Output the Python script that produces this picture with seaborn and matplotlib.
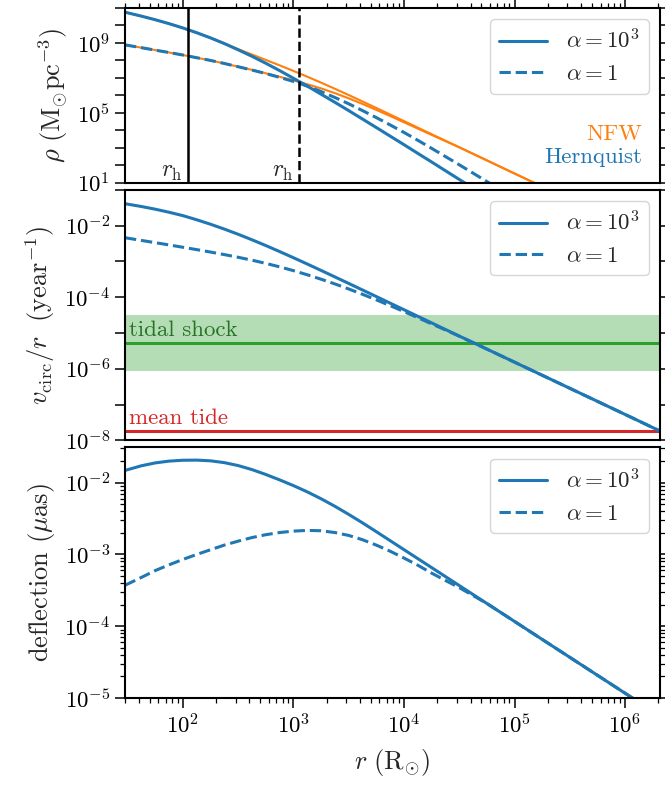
import numpy as np
import pandas as pd
import matplotlib
matplotlib.use("Agg")
import matplotlib.pyplot as plt
import seaborn as sns
from matplotlib.ticker import FixedLocator, LogLocator, NullFormatter, FuncFormatter

# ---------------------------------------------------------------------------
# Radial grid: log10(r / R_sun)
log_r = [1.477, 1.625, 1.75, 1.875, 2.0, 2.125, 2.25, 2.375, 2.5, 2.625,
         2.75, 2.875, 3.0, 3.125, 3.25, 3.375, 3.5, 3.625, 3.75, 3.875,
         4.0, 4.125, 4.25, 4.375, 4.5, 4.75, 5.0, 5.25, 5.5, 5.75, 6.0, 6.317]

# Density profiles, log10(rho / (M_sun pc^-3))
log_rho_hern_a1000 = [10.76, 10.535, 10.33, 10.105, 9.86, 9.587, 9.29, 8.965,
                      8.61, 8.237, 7.84, 7.42, 6.98, 6.535, 6.07, 5.605,
                      5.13, 4.645, 4.16, 3.669, 3.18, 2.683, 2.19, 1.69,
                      1.19, 0.20, -0.80, -1.80, -2.80, -3.80, -4.80, -6.00]
log_rho_hern_a1 = [8.89, 8.73, 8.59, 8.453, 8.31, 8.156, 8.00, 7.826,
                   7.64, 7.45, 7.25, 7.03, 6.80, 6.53, 6.22, 5.88,
                   5.52, 5.13, 4.73, 4.31, 3.88, 3.43, 2.97, 2.50,
                   2.03, 1.07, 0.10, -0.90, -1.90, -2.90, -3.90, -5.10]
log_rho_nfw_a1000 = [10.76, 10.535, 10.33, 10.105, 9.86, 9.587, 9.30, 8.98,
                     8.65, 8.34, 8.03, 7.72, 7.40, 7.07, 6.73, 6.38,
                     6.02, 5.65, 5.28, 4.905, 4.53, 4.155, 3.78, 3.405,
                     3.03, 2.28, 1.53, 0.78, 0.03, -0.72, -1.47, -2.42]
log_rho_nfw_a1 = [8.89, 8.73, 8.59, 8.453, 8.31, 8.156, 8.00, 7.826,
                  7.645, 7.46, 7.265, 7.065, 6.86, 6.64, 6.40, 6.13,
                  5.83, 5.51, 5.17, 4.82, 4.46, 4.10, 3.74, 3.385,
                  3.03, 2.28, 1.53, 0.78, 0.03, -0.72, -1.47, -2.42]

# Half-mass radii (R_sun) for alpha = 1e3 and alpha = 1
r_half = [111, 1130]

# Orbital frequency v_circ / r, log10(year^-1)
log_freq_a1000 = [-1.39, -1.468, -1.543, -1.628, -1.723, -1.838, -1.963, -2.098,
                  -2.243, -2.397, -2.558, -2.726, -2.898, -3.074, -3.253, -3.434,
                  -3.616, -3.799, -3.983, -4.167, -4.350, -4.534, -4.718, -4.902,
                  -5.085, -5.450, -5.815, -6.180, -6.545, -6.910, -7.275, -7.740]
log_freq_a1 = [-2.34, -2.415, -2.478, -2.541, -2.606, -2.672, -2.740, -2.811,
               -2.886, -2.967, -3.056, -3.153, -3.259, -3.374, -3.498, -3.630,
               -3.771, -3.920, -4.075, -4.236, -4.402, -4.572, -4.746, -4.915,
               -5.090, -5.450, -5.815, -6.180, -6.545, -6.910, -7.275, -7.740]

# Tidal frequencies (year^-1)
tidal_shock = 5.2e-6
tidal_shock_range = [8.5e-7, 3.2e-5]
mean_tide = 1.8e-8

# Light deflection, log10(micro-arcsec)
log_defl_a1000 = [-1.83, -1.765, -1.725, -1.700, -1.688, -1.686, -1.696, -1.721,
                  -1.762, -1.818, -1.886, -1.961, -2.041, -2.128, -2.224, -2.329,
                  -2.442, -2.560, -2.683, -2.808, -2.933, -3.058, -3.183, -3.308,
                  -3.433, -3.683, -3.933, -4.183, -4.433, -4.683, -4.933, -5.250]
log_defl_a1 = [-3.43, -3.320, -3.225, -3.145, -3.070, -3.000, -2.935, -2.870,
               -2.815, -2.765, -2.725, -2.695, -2.675, -2.665, -2.670, -2.695,
               -2.735, -2.795, -2.870, -2.955, -3.050, -3.150, -3.260, -3.362,
               -3.462, -3.683, -3.933, -4.183, -4.433, -4.683, -4.933, -5.250]

alpha_labels = [r"$\alpha = 10^3$", r"$\alpha = 1$"]

# ---------------------------------------------------------------------------
sns.set_theme(style="ticks")
plt.rcParams.update({
    "font.family": "serif",
    "font.serif": ["cmr10", "DejaVu Serif"],
    "mathtext.fontset": "cm",
    "axes.formatter.use_mathtext": True,
    "axes.unicode_minus": False,
    "axes.linewidth": 1.5,
    "axes.edgecolor": "black",
    "xtick.color": "black",
    "ytick.color": "black",
    "xtick.major.size": 7.2,
    "ytick.major.size": 7.2,
    "xtick.minor.size": 3.8,
    "ytick.minor.size": 3.8,
    "xtick.major.width": 1.1,
    "ytick.major.width": 1.1,
    "xtick.minor.width": 0.9,
    "ytick.minor.width": 0.9,
    "xtick.labelsize": 16.5,
    "ytick.labelsize": 16.5,
    "axes.labelsize": 19,
    "legend.fontsize": 16.5,
})

BLUE = "#1f77b4"
ORANGE = "#ff7f0e"
GREEN = "#2ca02c"
RED = "#d62728"
LW = 2.2

df = pd.DataFrame({
    "r": 10 ** np.array(log_r),
    "hern_a1000": 10 ** np.array(log_rho_hern_a1000),
    "hern_a1": 10 ** np.array(log_rho_hern_a1),
    "nfw_a1000": 10 ** np.array(log_rho_nfw_a1000),
    "nfw_a1": 10 ** np.array(log_rho_nfw_a1),
    "freq_a1000": 10 ** np.array(log_freq_a1000),
    "freq_a1": 10 ** np.array(log_freq_a1),
    "defl_a1000": 10 ** np.array(log_defl_a1000),
    "defl_a1": 10 ** np.array(log_defl_a1),
})

fig = plt.figure(figsize=(6.65, 7.85), dpi=100)
gs = fig.add_gridspec(3, 1, height_ratios=[175, 251, 251], hspace=0.031,
                      left=0.188, right=0.9925, top=0.9898, bottom=0.1108)
ax1 = fig.add_subplot(gs[0])
ax2 = fig.add_subplot(gs[1], sharex=ax1)
ax3 = fig.add_subplot(gs[2], sharex=ax1)

for ax in (ax1, ax2, ax3):
    ax.set_xscale("log")
    ax.set_yscale("log")

# --- density panel ---------------------------------------------------------
sns.lineplot(data=df, x="r", y="nfw_a1000", ax=ax1, color=ORANGE, lw=1.5)
sns.lineplot(data=df, x="r", y="nfw_a1", ax=ax1, color=ORANGE, lw=1.5)
sns.lineplot(data=df, x="r", y="hern_a1000", ax=ax1, color=BLUE, lw=LW,
             label=alpha_labels[0])
sns.lineplot(data=df, x="r", y="hern_a1", ax=ax1, color=BLUE, lw=LW,
             ls="--", label=alpha_labels[1])
ax1.axvline(r_half[0], color="black", lw=1.8)
ax1.axvline(r_half[1], color="black", lw=1.8, ls="--")
for rh in r_half:
    ax1.annotate(r"$r_{\rm h}$", xy=(rh, 0), xycoords=("data", "axes fraction"),
                 xytext=(-4, 4.5), textcoords="offset points",
                 ha="right", va="baseline", fontsize=17)
ax1.text(0.966, 0.246, "NFW", color=ORANGE, transform=ax1.transAxes,
         ha="right", va="baseline", fontsize=16.5)
ax1.text(0.966, 0.114, "Hernquist", color=BLUE, transform=ax1.transAxes,
         ha="right", va="baseline", fontsize=16.5)
ax1.set_ylim(1e1, 1e11)
ax1.set_ylabel(r"$\rho\ (\mathrm{M_{\odot}pc^{-3}})$", labelpad=5)

# --- frequency panel -------------------------------------------------------
ax2.axhspan(tidal_shock_range[0], tidal_shock_range[1], color=GREEN, alpha=0.35, lw=0)
ax2.axhline(tidal_shock, color=GREEN, lw=LW)
ax2.axhline(mean_tide, color=RED, lw=LW)
sns.lineplot(data=df, x="r", y="freq_a1000", ax=ax2, color=BLUE, lw=LW,
             label=alpha_labels[0])
sns.lineplot(data=df, x="r", y="freq_a1", ax=ax2, color=BLUE, lw=LW,
             ls="--", label=alpha_labels[1])
ax2.annotate("tidal shock", xy=(0, tidal_shock), xycoords=("axes fraction", "data"),
             xytext=(3, 5.5), textcoords="offset points", ha="left", va="baseline",
             color="#267326", fontsize=16.5)
ax2.annotate("mean tide", xy=(0, mean_tide), xycoords=("axes fraction", "data"),
             xytext=(3, 5.5), textcoords="offset points", ha="left", va="baseline",
             color=RED, fontsize=16.5)
ax2.set_ylim(1e-8, 1e-1)
ax2.set_ylabel(r"$v_{\rm circ}/r\ \ ({\rm year}^{-1})$", labelpad=5)

# --- deflection panel ------------------------------------------------------
sns.lineplot(data=df, x="r", y="defl_a1000", ax=ax3, color=BLUE, lw=LW,
             label=alpha_labels[0])
sns.lineplot(data=df, x="r", y="defl_a1", ax=ax3, color=BLUE, lw=LW,
             ls="--", label=alpha_labels[1])
ax3.set_ylim(1e-5, 3.1e-2)
ax3.set_ylabel(r"deflection ($\mu$as)", labelpad=5)
ax3.set_xlabel(r"$r\ (\mathrm{R_{\odot}})$", labelpad=7)

ax1.set_xlim(30, 2.07e6)


def pow_fmt(keep):
    def f(v, pos):
        e = int(round(np.log10(v)))
        return r"$10^{%d}$" % e if e in keep else ""
    return FuncFormatter(f)


ax1.yaxis.set_major_locator(FixedLocator([10.0 ** e for e in range(1, 12)]))
ax1.yaxis.set_major_formatter(pow_fmt({1, 5, 9}))
ax1.yaxis.set_minor_locator(FixedLocator([]))
ax2.yaxis.set_major_locator(FixedLocator([10.0 ** e for e in range(-8, 0)]))
ax2.yaxis.set_major_formatter(pow_fmt({-2, -4, -6, -8}))
ax2.yaxis.set_minor_locator(FixedLocator([]))
ax3.yaxis.set_major_locator(FixedLocator([10.0 ** e for e in range(-5, -1)]))
ax3.yaxis.set_major_formatter(pow_fmt({-5, -4, -3, -2}))
ax3.yaxis.set_minor_locator(LogLocator(base=10, subs=np.arange(2, 10), numticks=20))
ax3.yaxis.set_minor_formatter(NullFormatter())

ax3.xaxis.set_major_locator(FixedLocator([10.0 ** e for e in range(2, 7)]))
ax3.xaxis.set_major_formatter(pow_fmt({2, 3, 4, 5, 6}))
ax3.xaxis.set_minor_locator(LogLocator(base=10, subs=np.arange(2, 10), numticks=20))
ax3.xaxis.set_minor_formatter(NullFormatter())

for ax in (ax1, ax2, ax3):
    ax.tick_params(axis="y", which="both", direction="out", left=True, right=True,
                   labelleft=True, labelright=False)
    ax.grid(False)
    for s in ax.spines.values():
        s.set_visible(True)
        s.set_linewidth(1.5)
    ax.legend(loc="upper right", frameon=True, fancybox=True,
              edgecolor="0.8", framealpha=0.8, handlelength=2.1)

ax1.tick_params(axis="x", which="both", direction="out", top=True, bottom=False,
                labeltop=False, labelbottom=False)
ax2.tick_params(axis="x", which="both", top=False, bottom=False,
                labeltop=False, labelbottom=False)
ax3.tick_params(axis="x", which="both", direction="out", top=False, bottom=True,
                labelbottom=True)
ax1.set_xlabel("")
ax2.set_xlabel("")

fig.savefig("out.png", dpi=100)
